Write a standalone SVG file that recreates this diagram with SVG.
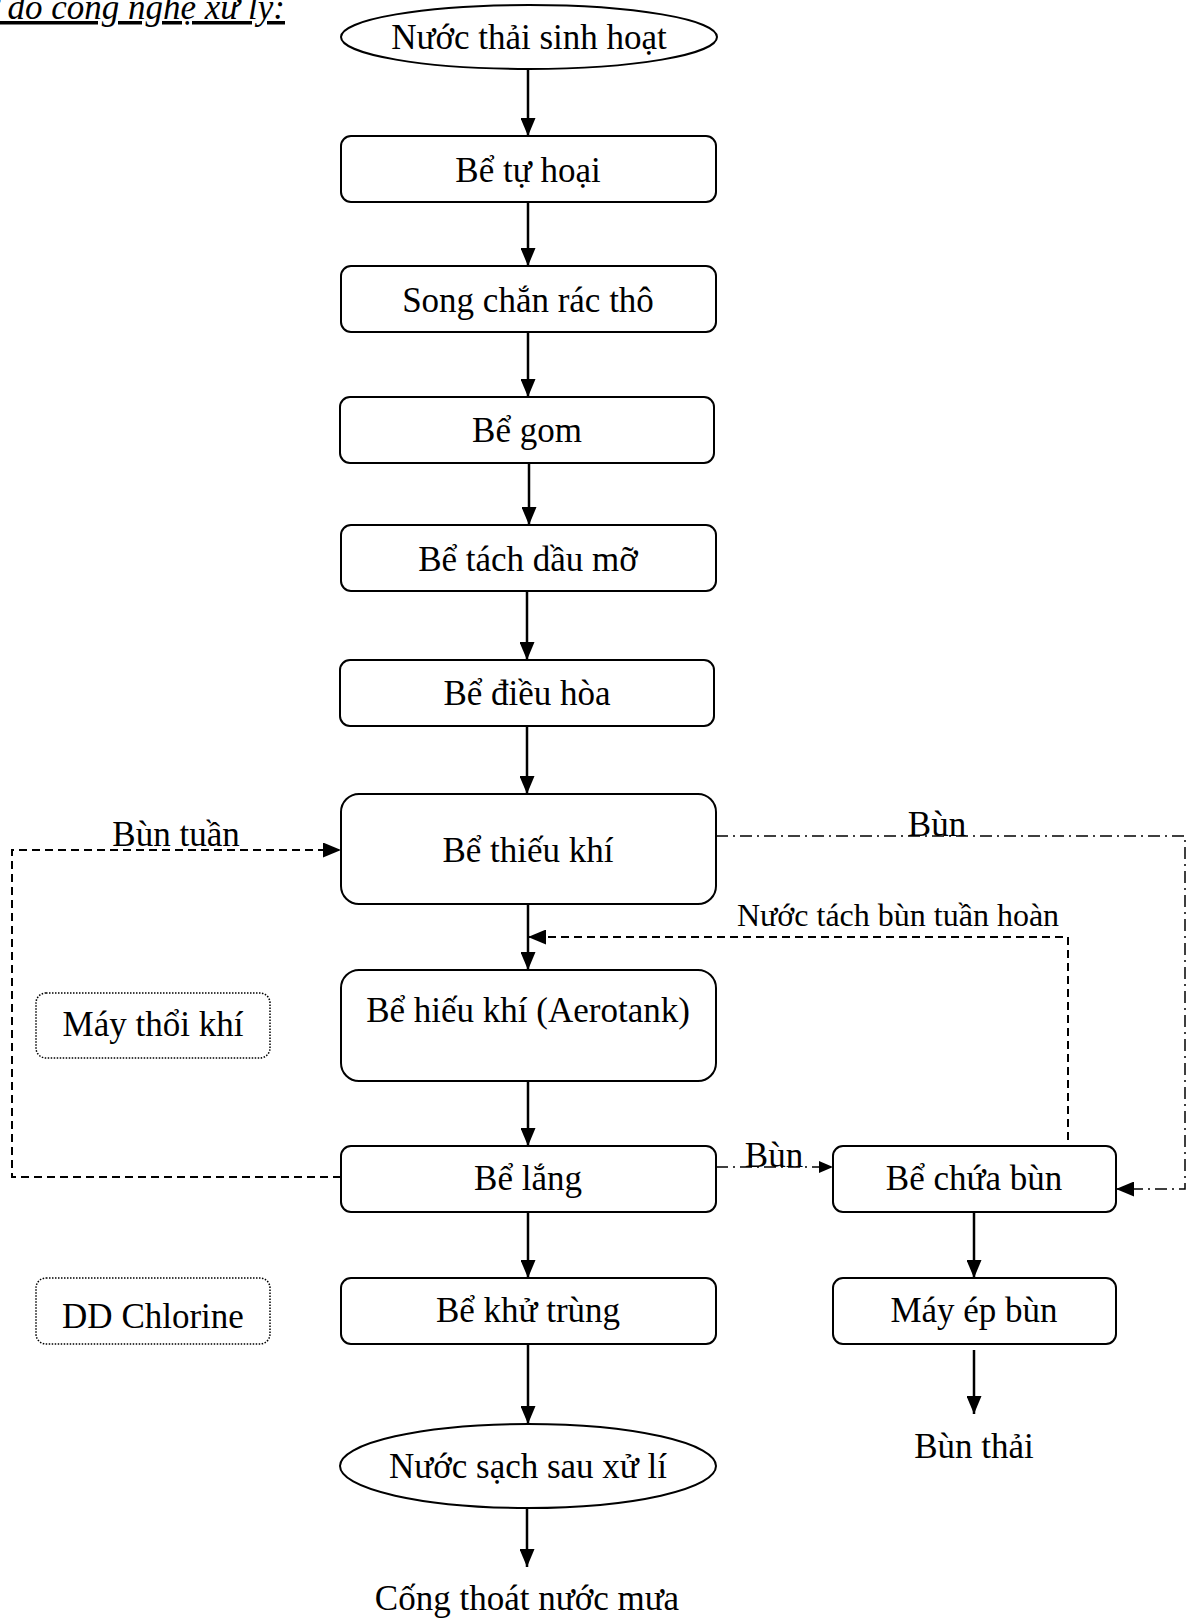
<svg xmlns="http://www.w3.org/2000/svg" width="1189" height="1618" viewBox="0 0 1189 1618">
<defs>
<marker id="ah" markerWidth="18" markerHeight="15" refX="18" refY="7.5" orient="auto" markerUnits="userSpaceOnUse" viewBox="0 0 18 15">
<path d="M0,0 L18,7.5 L0,15 Z" fill="#000"/>
</marker>
<marker id="ahs" markerWidth="14" markerHeight="12" refX="14" refY="6" orient="auto" markerUnits="userSpaceOnUse" viewBox="0 0 14 12">
<path d="M0,0 L14,6 L0,12 Z" fill="#000"/>
</marker>
</defs>
<style>
text{font-family:"Liberation Serif","Times New Roman",serif;font-size:35px;fill:#000;text-anchor:middle}
.box{fill:#fff;stroke:#000;stroke-width:2}
.dot{fill:#fff;stroke:#000;stroke-width:1.5;stroke-dasharray:1.5 1.5}
.solid{fill:none;stroke:#000;stroke-width:2.5}
.dash{fill:none;stroke:#000;stroke-width:2;stroke-dasharray:8 5}
.dd{fill:none;stroke:#000;stroke-width:1.5;stroke-dasharray:12 5 2 5}
</style>
<rect width="1189" height="1618" fill="#fff"/>
<text x="285" y="19" style="font-style:italic;text-anchor:end;text-decoration:underline">Sơ đồ công nghệ xử lý:</text>

<g id="connectors">
<line class="solid" x1="528" y1="70" x2="528" y2="136" marker-end="url(#ah)"/>
<line class="solid" x1="528" y1="202" x2="528" y2="266" marker-end="url(#ah)"/>
<line class="solid" x1="528" y1="332" x2="528" y2="397" marker-end="url(#ah)"/>
<line class="solid" x1="529" y1="458" x2="529" y2="525" marker-end="url(#ah)"/>
<line class="solid" x1="527" y1="591" x2="527" y2="660" marker-end="url(#ah)"/>
<line class="solid" x1="527" y1="726" x2="527" y2="794" marker-end="url(#ah)"/>
<line class="solid" x1="528" y1="904" x2="528" y2="970" marker-end="url(#ah)"/>
<line class="solid" x1="528" y1="1081" x2="528" y2="1146" marker-end="url(#ah)"/>
<line class="solid" x1="528" y1="1212" x2="528" y2="1278" marker-end="url(#ah)"/>
<line class="solid" x1="528" y1="1344" x2="528" y2="1424" marker-end="url(#ah)"/>
<line class="solid" x1="527" y1="1508" x2="527" y2="1567" marker-end="url(#ah)"/>
<line class="solid" x1="974" y1="1212" x2="974" y2="1278" marker-end="url(#ah)"/>
<line class="solid" x1="974" y1="1350" x2="974" y2="1414" marker-end="url(#ah)"/>
<polyline class="dash" points="341,1177 12,1177 12,850 341,850" marker-end="url(#ah)"/>
<polyline class="dash" points="1068,1140 1068,937 528,937" marker-end="url(#ah)"/>
<polyline class="dd" points="716,836 1185,836 1185,1189 1116,1189" marker-end="url(#ah)"/>
<polyline class="dd" points="716,1167 833,1167" marker-end="url(#ahs)"/>
<text x="176" y="846">Bùn tuần</text>
<text x="937" y="836">Bùn</text>
<text x="898" y="926" style="font-size:32px">Nước tách bùn tuần hoàn</text>
<text x="774" y="1167">Bùn</text>
</g>

<g id="n-nuoc-thai"><ellipse class="box" cx="529" cy="37" rx="188" ry="32"/><text x="529" y="49">Nước thải sinh hoạt</text></g>
<g id="n-tu-hoai"><rect class="box" x="341" y="136" width="375" height="66" rx="10"/><text x="528" y="182">Bể tự hoại</text></g>
<g id="n-song-chan"><rect class="box" x="341" y="266" width="375" height="66" rx="10"/><text x="528" y="312">Song chắn rác thô</text></g>
<g id="n-gom"><rect class="box" x="340" y="397" width="374" height="66" rx="10"/><text x="527" y="442">Bể gom</text></g>
<g id="n-tach-dau"><rect class="box" x="341" y="525" width="375" height="66" rx="10"/><text x="528" y="571">Bể tách dầu mỡ</text></g>
<g id="n-dieu-hoa"><rect class="box" x="340" y="660" width="374" height="66" rx="10"/><text x="527" y="705">Bể điều hòa</text></g>
<g id="n-thieu-khi"><rect class="box" x="341" y="794" width="375" height="110" rx="18"/><text x="528" y="862">Bể thiếu khí</text></g>
<g id="n-hieu-khi"><rect class="box" x="341" y="970" width="375" height="111" rx="18"/><text x="528" y="1022">Bể hiếu khí (Aerotank)</text></g>
<g id="n-lang"><rect class="box" x="341" y="1146" width="375" height="66" rx="10"/><text x="528" y="1190">Bể lắng</text></g>
<g id="n-khu-trung"><rect class="box" x="341" y="1278" width="375" height="66" rx="10"/><text x="528" y="1322">Bể khử trùng</text></g>
<g id="n-nuoc-sach"><ellipse class="box" cx="528" cy="1466" rx="188" ry="42"/><text x="528" y="1478">Nước sạch sau xử lí</text></g>
<g id="n-cong"><text x="527" y="1610">Cống thoát nước mưa</text></g>
<g id="n-chua-bun"><rect class="box" x="833" y="1146" width="283" height="66" rx="10"/><text x="974" y="1190">Bể chứa bùn</text></g>
<g id="n-ep-bun"><rect class="box" x="833" y="1278" width="283" height="66" rx="10"/><text x="974" y="1322">Máy ép bùn</text></g>
<g id="n-bun-thai"><text x="974" y="1458">Bùn thải</text></g>
<g id="n-may-thoi"><rect class="dot" x="36" y="993" width="234" height="65" rx="10"/><text x="153" y="1036">Máy thổi khí</text></g>
<g id="n-chlorine"><rect class="dot" x="36" y="1278" width="234" height="66" rx="10"/><text x="153" y="1328">DD Chlorine</text></g>
</svg>
